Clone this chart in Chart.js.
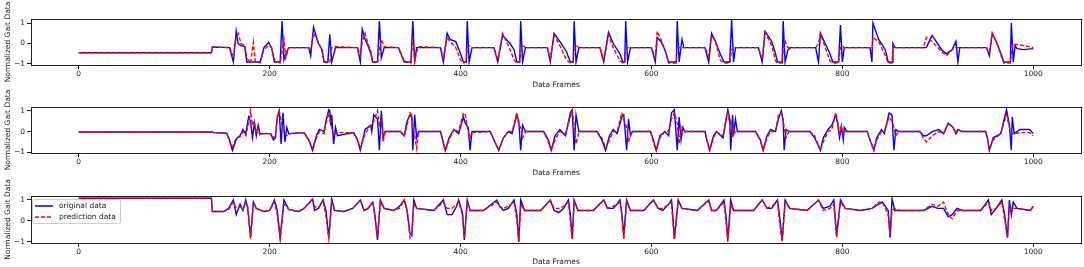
<!DOCTYPE html>
<html lang="en">
<head>
<meta charset="utf-8">
<title>Normalized gait data: original vs prediction</title>
<style>
  html, body { margin: 0; padding: 0; background: #fff; }
  .panel { position: absolute; left: 0; width: 1084px; }
</style>
</head>
<body>
<div class="panel" style="top:0;height:90px"><canvas id="c1"></canvas></div>
<div class="panel" style="top:90px;height:88px"><canvas id="c2"></canvas></div>
<div class="panel" style="top:178px;height:89px"><canvas id="c3"></canvas></div>

<script src="https://cdn.jsdelivr.net/npm/chart.js"></script>
<script>
const xTicks = [0, 200, 400, 600, 800, 1000];
const yTicks = [-1, 0, 1];
const seriesLabels = ['original data', 'prediction data'];

// panel 1
const p1Frames = [
  0,139,140,158,162,165,167,170,174,176,
  180,183,185,190,194,199,202,205,211,213,
  215,217,220,241,243,246,251,255,257,261,
  263,265,269,292,295,297,300,303,306,308,
  313,315,317,320,335,341,348,350,352,354,
  357,379,382,386,389,395,400,403,406,407,
  409,412,435,439,444,448,452,456,459,462,
  463,465,468,491,494,498,504,511,515,518,
  519,521,524,546,550,555,560,567,570,572,
  573,575,578,600,604,606,610,614,618,626,
  627,629,632,634,656,660,663,667,672,676,
  682,684,686,688,712,716,719,726,730,732,
  737,738,740,743,746,772,775,777,782,787,
  790,796,798,800,802,829,831,832,838,845,
  848,852,853,855,885,888,894,904,909,915,
  919,921,923,951,954,957,962,967,969,976,
  977,979,981,983,990,1000];
const p1Orig = [
  -0.45,-0.45,-0.17,-0.2,-0.9,0.6,0.0,-0.1,-0.15,-0.9,
  -0.9,-0.9,-0.9,-0.9,-0.2,0.05,-0.2,-0.9,-0.9,1.1,
  -0.8,-0.5,-0.2,-0.2,-0.6,0.8,0.0,-0.3,-0.9,-0.9,
  0.45,-0.9,-0.2,-0.2,-0.9,0.7,0.2,-0.1,-0.5,-0.9,
  -0.9,1.1,-0.7,-0.2,-0.2,-0.9,-0.9,1.1,-0.9,-0.2,
  -0.2,-0.2,-0.9,0.5,0.2,0.1,-0.5,-0.9,-0.9,1.1,
  -0.9,-0.2,-0.2,-0.9,0.4,0.2,0.0,-0.3,-0.9,-0.9,
  1.1,-0.9,-0.2,-0.2,-0.9,0.5,0.1,-0.4,-0.9,-0.9,
  1.1,-0.9,-0.2,-0.2,-0.9,0.55,0.0,-0.5,-0.9,-0.9,
  1.1,-0.9,-0.2,-0.2,-0.9,0.3,0.1,-0.3,-0.9,-0.9,
  1.1,-0.9,0.2,-0.2,-0.2,-0.9,0.5,0.1,-0.5,-0.9,
  -0.9,1.15,-0.9,-0.2,-0.2,-0.9,0.6,0.1,-0.5,-0.9,
  -0.9,1.1,-0.9,-0.3,-0.2,-0.2,-0.9,0.5,0.0,-0.5,
  -0.9,-0.9,0.9,-0.9,-0.2,-0.2,-0.9,1.0,0.2,-0.3,
  -0.9,-0.9,0.0,-0.2,-0.2,-0.2,0.4,-0.3,-0.5,-0.3,
  0.1,-0.9,-0.2,-0.2,-0.6,0.5,0.0,-0.6,-0.9,-0.9,
  1.0,-0.9,-0.1,-0.25,-0.3,-0.25];
const p1Pred = [
  -0.45,-0.45,-0.17,-0.2,-0.6,0.3,0.5,0.0,-0.1,-0.7,
  -0.95,0.05,-0.9,-0.95,-0.3,-0.1,-0.2,-0.8,-0.95,-0.4,
  0.2,-0.7,-0.2,-0.2,-0.3,0.5,0.1,-0.4,-0.9,-0.95,
  -0.9,-0.2,-0.15,-0.2,-0.6,0.1,0.5,0.0,-0.4,-0.9,
  -0.95,-0.3,0.2,-0.15,-0.2,-0.85,-0.95,0.3,-0.9,-0.4,
  -0.15,-0.2,-0.7,0.3,0.1,-0.2,-0.8,-0.95,-0.9,-0.2,
  -0.1,-0.2,-0.2,-0.8,0.5,0.1,-0.3,-0.8,-0.95,-0.9,
  -0.5,-0.1,-0.2,-0.2,-0.75,0.4,-0.1,-0.8,-0.95,-0.9,
  -0.4,-0.1,-0.2,-0.2,-0.8,0.4,-0.2,-0.85,-0.95,-0.9,
  -0.3,-0.2,-0.2,-0.2,-0.7,0.6,0.2,-0.3,-0.95,-0.95,
  -0.2,-0.2,-0.2,-0.2,-0.2,-0.6,0.4,0.1,-0.8,-0.95,
  -0.95,-0.3,-0.2,-0.2,-0.2,-0.75,0.55,-0.1,-0.85,-0.95,
  -0.95,-0.3,0.1,-0.2,-0.2,-0.2,0.0,0.5,-0.2,-0.85,
  -0.95,-0.95,-0.2,-0.1,-0.2,-0.2,-0.4,0.3,0.1,-0.6,
  -0.95,-0.95,-0.1,-0.2,-0.2,0.3,0.1,-0.4,-0.6,-0.3,
  -0.2,-0.2,-0.2,-0.2,-0.4,0.5,0.0,-0.7,-0.95,-0.95,
  -0.5,0.0,-0.05,-0.05,-0.1,-0.2];

// panel 2
const p2Frames = [
  0,140,141,155,158,161,164,166,169,172,
  175,178,180,182,184,186,188,190,193,201,
  204,206,208,210,212,214,216,218,220,236,
  241,245,249,252,257,259,262,263,264,265,
  267,269,271,288,292,295,300,306,307,309,
  313,315,317,319,321,337,341,344,347,349,
  350,352,354,356,379,384,388,393,398,403,
  405,408,410,412,431,435,440,445,450,454,
  459,461,463,465,468,487,492,495,499,504,
  510,515,517,519,521,524,543,548,552,556,
  560,564,569,571,574,576,578,580,599,602,
  605,609,614,618,621,624,627,629,631,633,
  635,656,658,661,665,668,675,678,680,682,
  683,685,686,688,690,709,714,717,721,725,
  730,733,736,738,739,741,744,766,771,777,
  780,785,789,793,795,797,799,801,802,805,
  826,829,833,836,841,844,849,852,854,856,
  859,881,885,888,894,901,906,911,916,919,
  921,925,950,952,954,958,966,969,972,975,
  977,978,980,986,996,1000];
const p2Orig = [
  -0.02,-0.02,-0.05,-0.08,-0.4,-0.9,-0.5,-0.3,-0.2,0.1,
  -0.1,0.7,0.5,-0.3,0.4,-0.2,0.3,-0.1,-0.1,-0.1,
  -0.4,-0.3,0.7,1.0,-0.6,0.9,-0.5,0.2,-0.1,-0.05,
  -0.4,-0.9,-0.2,0.1,0.0,0.5,1.05,1.0,0.3,0.8,
  -0.6,0.2,-0.2,-0.05,-0.4,-0.9,0.1,0.3,0.0,0.8,
  0.6,-0.9,1.0,-0.3,0.0,0.0,-0.2,0.5,0.8,0.7,
  -0.9,0.8,-0.3,0.0,0.0,-0.9,-0.3,0.1,-0.1,0.7,
  0.4,0.2,-0.9,0.0,0.0,-0.4,-0.9,-0.3,0.0,-0.1,
  0.8,0.5,-0.9,0.3,0.0,0.0,-0.4,-0.9,-0.2,0.1,
  -0.2,0.9,1.05,-0.9,0.8,0.0,0.0,-0.4,-0.9,-0.2,
  0.1,-0.1,0.7,0.8,-0.9,0.6,-0.2,0.0,0.0,-0.4,
  -0.9,-0.2,0.0,-0.2,0.9,1.05,-0.9,0.7,-0.4,0.2,
  0.0,0.0,-0.4,-0.9,-0.2,0.0,-0.3,0.5,1.05,0.6,
  -0.9,0.8,-0.2,0.6,0.0,0.0,-0.4,-0.9,-0.2,0.1,
  0.0,0.6,1.0,0.5,-0.9,0.1,0.0,0.0,-0.3,-0.9,
  -0.3,0.1,0.3,0.8,0.4,-0.3,0.2,-0.4,0.2,0.0,
  0.0,-0.4,-0.9,-0.3,0.1,-0.1,0.9,0.8,-0.9,0.1,
  0.0,0.0,-0.2,-0.2,0.0,0.1,-0.1,0.4,0.2,-0.1,
  0.1,0.0,0.0,-0.3,-0.9,-0.3,-0.1,0.5,1.05,0.3,
  -0.9,0.7,-0.1,0.1,0.1,-0.1];
const p2Pred = [
  -0.02,-0.02,-0.05,-0.1,-0.5,-0.75,-0.4,-0.3,-0.25,0.0,
  -0.2,0.4,1.0,0.3,0.5,-0.1,0.1,-0.2,-0.1,-0.1,
  -0.3,-0.2,0.6,1.0,0.5,0.1,-0.1,-0.2,-0.1,-0.05,
  -0.4,-0.8,-0.3,0.0,-0.1,0.4,0.9,0.6,0.4,0.2,
  -0.2,-0.1,-0.05,-0.05,-0.4,-0.8,-0.1,0.3,0.3,0.5,
  1.0,0.3,0.5,-0.5,0.0,0.0,-0.2,0.3,0.9,0.8,
  0.2,-0.2,-0.8,0.0,0.0,-0.9,-0.4,0.1,0.0,0.9,
  0.8,0.0,-0.3,-0.05,0.0,-0.4,-0.9,-0.3,0.0,0.0,
  0.9,0.3,0.2,-0.3,0.0,0.0,-0.5,-0.9,-0.4,0.0,
  -0.1,0.7,1.0,0.3,-0.6,0.0,0.0,-0.3,-0.8,-0.4,
  0.0,0.0,0.9,0.6,0.2,-0.5,-0.2,0.0,0.0,-0.5,
  -0.9,-0.3,0.0,0.0,0.6,0.9,0.4,-0.6,0.2,-0.1,
  0.0,0.0,-0.4,-0.9,-0.3,0.0,-0.2,0.6,0.9,0.4,
  0.6,-0.3,0.2,-0.1,0.0,0.0,-0.4,-0.9,-0.3,0.0,
  0.0,0.8,0.9,0.6,0.2,-0.3,0.0,0.0,-0.2,-0.9,
  -0.5,0.0,0.1,0.9,0.5,-0.1,0.3,-0.2,0.0,0.0,
  0.0,-0.4,-0.9,-0.4,0.0,0.0,0.7,0.5,0.2,-0.2,
  0.0,0.0,-0.3,-0.5,-0.2,0.0,-0.1,0.4,0.2,-0.1,
  0.0,0.0,0.0,-0.3,-0.9,-0.4,-0.1,0.4,0.8,0.2,
  0.0,-0.1,-0.1,-0.05,-0.05,-0.2];

// panel 3
const p3Frames = [
  0,139,140,152,157,162,165,169,172,175,
  177,180,183,186,194,200,205,208,211,215,
  220,230,236,245,247,251,256,259,262,265,
  268,278,287,295,299,303,308,310,313,316,
  320,330,336,341,344,347,349,351,354,372,
  382,386,391,396,398,402,404,407,410,424,
  438,441,445,450,456,459,461,463,467,484,
  494,498,503,508,513,515,517,519,523,539,
  550,554,560,564,567,569,571,574,578,592,
  602,607,612,618,621,622,624,628,632,648,
  660,663,668,676,678,680,683,686,707,716,
  721,726,732,734,737,740,745,763,775,780,
  787,791,794,798,803,819,831,838,842,848,
  850,852,855,860,885,894,900,906,911,915,
  920,926,945,953,956,961,967,970,973,975,
  977,979,983,997,1000];
const p3Orig = [
  1.08,1.08,0.45,0.45,0.6,1.0,0.3,0.8,0.5,1.0,
  0.6,-0.75,0.9,0.6,0.45,0.5,1.0,0.5,-0.8,1.0,
  0.55,0.45,0.6,1.05,0.5,0.6,1.0,0.5,-0.8,1.05,
  0.5,0.45,0.6,1.0,0.5,0.6,0.9,0.4,-0.9,1.0,
  0.6,0.5,0.7,1.0,0.5,-0.6,-0.7,1.0,0.6,0.5,
  1.0,0.3,0.3,0.7,1.0,0.4,-0.9,1.0,0.5,0.5,
  1.0,0.7,0.5,0.6,1.0,0.3,-1.0,1.0,0.5,0.5,
  1.0,0.5,0.4,0.6,1.0,0.3,-0.85,1.0,0.5,0.5,
  1.0,0.6,0.6,0.8,1.0,0.3,-0.7,1.0,0.5,0.5,
  1.0,0.6,0.5,0.8,1.0,0.5,-0.85,1.0,0.6,0.5,
  1.0,0.5,0.5,1.0,0.3,-0.9,1.0,0.5,0.5,1.0,
  0.6,0.6,1.0,0.3,-0.9,1.0,0.6,0.5,1.0,0.6,
  0.7,1.0,-0.7,1.0,0.6,0.5,0.6,0.8,0.9,0.5,
  -0.8,1.05,0.5,0.5,0.5,0.7,0.6,0.6,0.2,0.3,
  0.6,0.5,0.5,1.0,0.3,0.6,1.0,0.3,-0.8,1.0,
  0.3,0.9,0.6,0.5,0.7];
const p3Pred = [
  1.08,1.08,0.45,0.45,0.55,0.9,0.6,0.7,0.55,0.9,
  0.7,-0.85,0.8,0.6,0.45,0.5,0.9,0.3,-0.85,0.8,
  0.55,0.45,0.6,1.0,0.7,0.6,1.0,0.2,-0.85,0.9,
  0.5,0.45,0.6,1.0,0.5,0.6,0.9,0.3,-0.8,0.9,
  0.6,0.5,0.6,1.0,0.5,-0.8,-0.6,0.8,0.6,0.5,
  0.9,0.6,0.6,0.8,0.9,0.3,-0.85,0.9,0.5,0.5,
  0.9,0.7,0.6,0.7,0.9,0.0,-1.0,0.8,0.5,0.5,
  1.0,0.6,0.6,0.7,0.9,0.0,-0.9,0.9,0.5,0.5,
  1.0,0.6,0.7,0.8,0.9,0.3,-0.9,0.9,0.5,0.5,
  1.0,0.6,0.6,0.8,0.9,0.2,-0.9,0.9,0.6,0.5,
  0.95,0.5,0.5,0.9,0.0,-1.0,0.8,0.5,0.5,1.0,
  0.6,0.7,0.9,0.0,-1.0,0.9,0.6,0.5,1.0,0.5,
  0.6,0.8,-0.8,0.9,0.6,0.5,0.6,0.9,0.9,0.3,
  -0.7,0.5,0.6,0.5,0.5,0.8,0.7,0.9,0.3,0.1,
  0.5,0.5,0.5,0.9,0.5,0.6,0.9,0.1,-0.8,0.8,
  0.5,0.6,0.6,0.5,0.7];

const ink = '#222';
const font = { family: '"DejaVu Sans", sans-serif', size: 7.5 };

function toPoints(frames, values) {
  return frames.map((f, i) => ({ x: f, y: values[i] }));
}

function tickText(v) {
  return v < 0 ? '\u2212' + Math.abs(v) : String(v);
}

// matplotlib style box round the axes
const frameBox = {
  id: 'frameBox',
  afterDraw(chart) {
    const { ctx, chartArea: a } = chart;
    ctx.save();
    ctx.strokeStyle = ink;
    ctx.lineWidth = 1;
    ctx.strokeRect(Math.round(a.left) + 0.5, Math.round(a.top) + 0.5,
      Math.round(a.right - a.left), Math.round(a.bottom - a.top));
    ctx.restore();
  }
};

// legend sits inside the plot, upper left
const innerLegend = {
  id: 'innerLegend',
  afterDraw(chart) {
    const { ctx, chartArea: a } = chart;
    const x = Math.round(a.left) + 1, y = Math.round(a.top) + 3;
    ctx.save();
    ctx.fillStyle = 'rgba(255,255,255,0.85)';
    ctx.strokeStyle = '#ccc';
    ctx.lineWidth = 1;
    ctx.beginPath();
    ctx.roundRect(x + 0.5, y + 0.5, 88, 24, 2);
    ctx.fill();
    ctx.stroke();
    chart.data.datasets.forEach((ds, i) => {
      const ly = y + 7 + i * 11;
      ctx.strokeStyle = ds.borderColor;
      ctx.lineWidth = 1.5;
      ctx.setLineDash(ds.borderDash || []);
      ctx.beginPath();
      ctx.moveTo(x + 3, ly);
      ctx.lineTo(x + 21, ly);
      ctx.stroke();
      ctx.setLineDash([]);
      ctx.fillStyle = ink;
      ctx.font = '7.5px "DejaVu Sans"';
      ctx.textBaseline = 'middle';
      ctx.fillText(ds.label, x + 27, ly);
    });
    ctx.restore();
  }
};

function makePanel(id, frames, orig, pred, o) {
  const plugins = [frameBox];
  if (o.legend) plugins.push(innerLegend);
  return new Chart(document.getElementById(id), {
    type: 'line',
    data: {
      datasets: [
        { label: seriesLabels[0], data: toPoints(frames, orig), borderColor: '#0000ff',
          borderWidth: 1.4, order: 1 },
        { label: seriesLabels[1], data: toPoints(frames, pred), borderColor: '#ff0000',
          borderWidth: 1.4, borderDash: [4, 2], order: 0 }
      ]
    },
    options: {
      responsive: true,
      maintainAspectRatio: false,
      animation: false,
      layout: { padding: { top: o.top, right: 3, left: 0, bottom: 0 } },
      elements: { point: { radius: 0 }, line: { tension: 0 } },
      plugins: { legend: { display: false }, tooltip: { enabled: false } },
      scales: {
        x: {
          type: 'linear', min: -50, max: 1050,
          afterBuildTicks: ax => { ax.ticks = xTicks.map(v => ({ value: v })); },
          afterFit: ax => { ax.height = o.axisH; },
          grid: { drawOnChartArea: false, tickLength: 4, color: ink },
          border: { color: ink },
          ticks: { font, color: ink, padding: 1, maxRotation: 0, callback: tickText },
          title: { display: true, text: 'Data Frames', font, color: ink,
                   padding: { top: 0, bottom: 0.5 } }
        },
        y: {
          type: 'linear', min: o.yMin, max: o.yMax,
          afterBuildTicks: ax => { ax.ticks = yTicks.map(v => ({ value: v })); },
          afterFit: ax => { ax.width = 31; },
          grid: { drawOnChartArea: false, tickLength: 4, color: ink },
          border: { color: ink },
          ticks: { font, color: ink, padding: 2, callback: tickText },
          title: { display: true, text: 'Normalized Gait Data', font, color: ink,
                   padding: { top: 3.5, bottom: 0 } }
        }
      }
    },
    plugins
  });
}

makePanel('c1', p1Frames, p1Orig, p1Pred, { top: 19, axisH: 25, yMin: -1.05, yMax: 1.2 });
makePanel('c2', p2Frames, p2Orig, p2Pred, { top: 17, axisH: 25, yMin: -1.03, yMax: 1.18 });
makePanel('c3', p3Frames, p3Orig, p3Pred, { top: 18, axisH: 24, yMin: -1.05, yMax: 1.19, legend: true });
</script>
</body>
</html>
